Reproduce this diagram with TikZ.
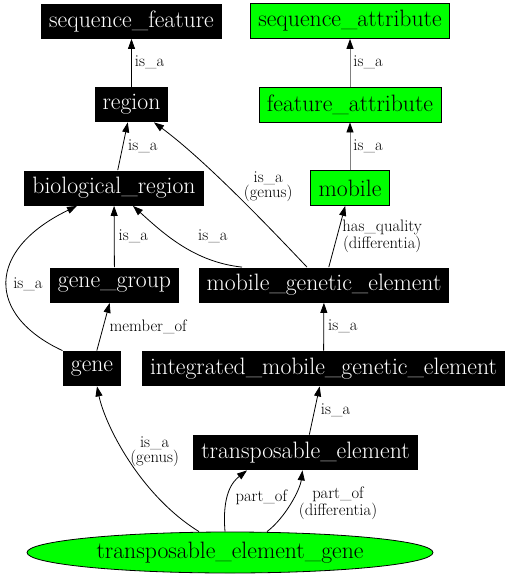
\documentclass[tikz,border=0pt]{standalone}
\usepackage{amsmath}
\usetikzlibrary{arrows.meta,shapes.geometric,positioning}

\tikzset{
  term/.style={rectangle, fill=black, text=white, inner xsep=8pt, inner ysep=0pt,
    minimum height=35pt, font=\fontsize{23.7}{26}\selectfont},
  attr/.style={term, fill=green, draw=black, text=black},
  goal/.style={ellipse, fill=green, draw=black, inner sep=0pt, minimum width=406pt,
    minimum height=41pt, font=\fontsize{23.7}{26}\selectfont},
  lbl/.style={inner sep=2pt, align=center, font=\fontsize{16.6}{15}\selectfont},
  gry/.style={draw=gray, -{Triangle[length=10pt,width=7pt,color=black]}}
}

\begin{document}
\begin{tikzpicture}[x=1pt,y=-1pt,>={Triangle[length=10pt,width=7pt]},line width=0.8pt]

  \useasboundingbox (0,0) rectangle (510,576);

  \node[term] (sf)   at (131.5,21)  {sequence\_feature};
  \node[attr] (sa)   at (350,21)    {sequence\_attribute};
  \node[term] (reg)  at (131.5,104.5) {region};
  \node[attr] (fa)   at (350,104.5) {feature\_attribute};
  \node[term] (br)   at (114,188)   {biological\_region};
  \node[attr] (mob)  at (350,188)   {mobile};
  \node[term] (gg)   at (114.5,285) {gene\_group};
  \node[term] (mge)  at (324,285)   {mobile\_genetic\_element};
  \node[term] (gene) at (92,368.5)  {gene};
  \node[term] (imge) at (323.5,368.5) {integrated\_mobile\_genetic\_element};
  \node[term] (te)   at (305.5,452.5) {transposable\_element};
  \node[goal] (teg)  at (230,552.5) {transposable\_element\_gene};

  \path[->]
    (reg)  edge node[lbl,right=1pt] {is\_a} (sf)
    (fa)   edge[gry] node[lbl,right=1pt] {is\_a} (sa)
    (mob)  edge[gry] node[lbl,right=1pt] {is\_a} (fa)
    (br)   edge node[lbl,right=3pt] {is\_a} (reg)
    (mge)  edge node[lbl,right=3pt] {has\_quality\\(differentia)} (mob)
    (gg)   edge node[lbl,right=2pt] {is\_a} (br)
    (gene) edge node[lbl,right=4pt] {member\_of} (gg)
    (imge) edge node[lbl,right=2pt] {is\_a} (mge)
    (te)   edge node[lbl,right=4pt] {is\_a} (imge);

  % curved ones
  \draw[->] ([xshift=-17pt]mge.north) .. controls (270,228) and (205,160) ..
    ([xshift=22.5pt]reg.south) node[lbl,pos=0.55,right=14pt] {is\_a\\(genus)};
  \draw[->] ([xshift=-82pt]mge.north) .. controls (195,262) and (165,235) ..
    ([xshift=19pt]br.south) node[lbl,pos=0.3,xshift=9pt,yshift=21pt] {is\_a};
  \draw[->] (gene.north west) .. controls (-14,315) and (-14,250) ..
    ([xshift=-37pt]br.south) node[lbl,pos=0.5,right=4pt,yshift=-3pt] {is\_a};
  \draw[->] ([xshift=-31pt]teg.north) .. controls (140,495) and (105,425) ..
    ([xshift=5pt]gene.south) node[lbl,pos=0.55,right=4pt] {is\_a\\(genus)};
  \draw[->] ([xshift=-5pt]teg.north) .. controls (222,495) and (232,482) ..
    ([xshift=-58.5pt]te.south) node[lbl,pos=0.4,right=6pt] {part\_of};
  \draw[->] ([xshift=37pt]teg.north) .. controls (285,518) and (300,490) ..
    ([xshift=-3pt]te.south) node[lbl,pos=0.5,right=6pt] {part\_of\\(differentia)};

\end{tikzpicture}
\end{document}
